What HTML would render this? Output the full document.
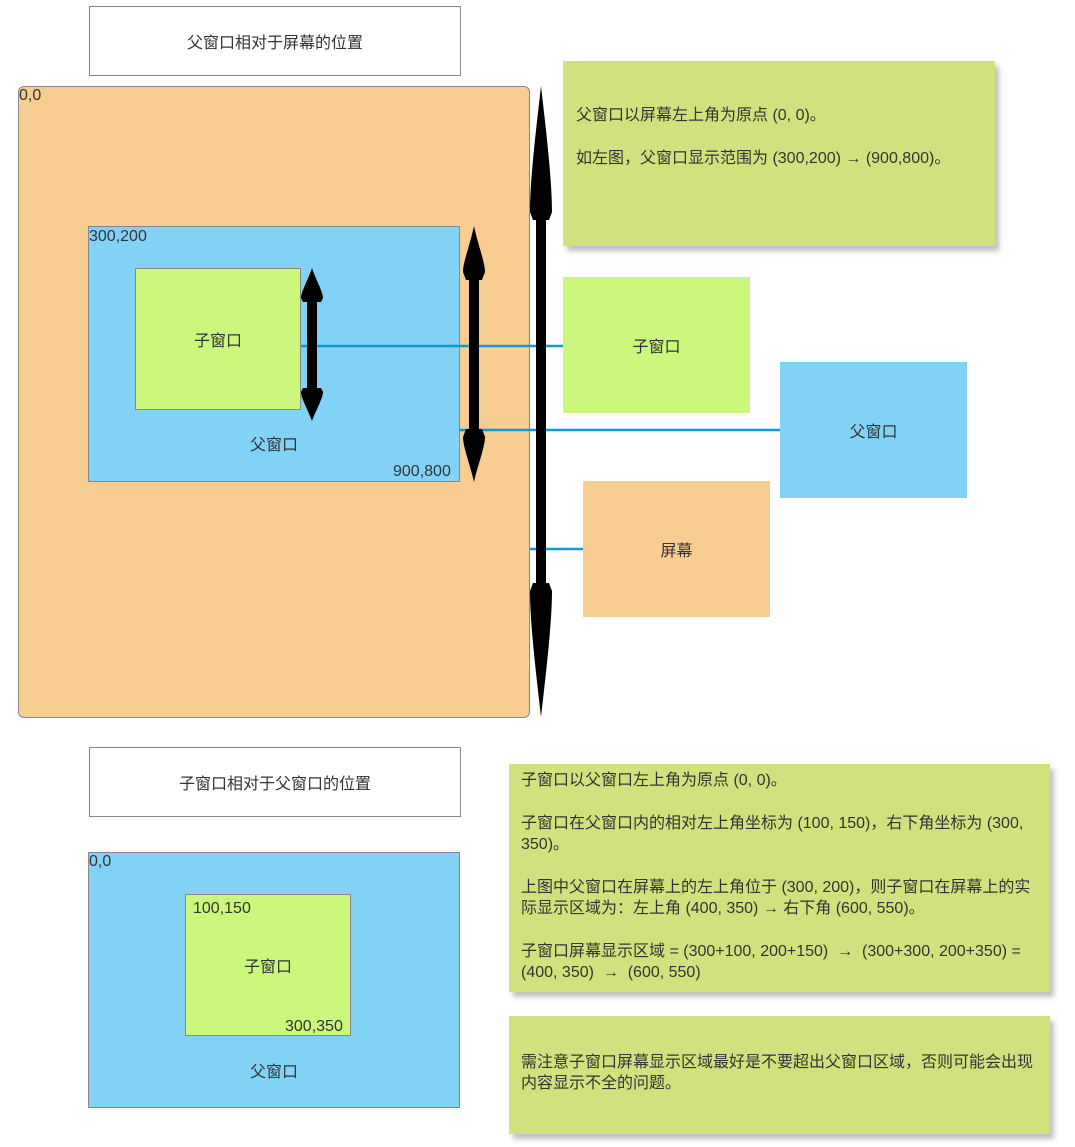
<!DOCTYPE html>
<html><head><meta charset="utf-8"><style>
body{margin:0;width:1075px;height:1147px;background:#fff;position:relative;font-family:"Liberation Sans","Noto Sans CJK SC",sans-serif;font-size:16px;color:#333;overflow:hidden}
.b{position:absolute;box-sizing:border-box;display:flex;align-items:center;justify-content:center}
.t{position:absolute;white-space:nowrap;font-size:16px}
.note{position:absolute;background:#d3e07e;box-shadow:4px 5px 5px rgba(0,0,0,.25);box-sizing:border-box;font-size:16px;line-height:21px;color:#333}
.note p{margin:0 0 22px 0}
</style></head><body>
<div class="b" style="left:89px;top:6px;width:372px;height:70px;border:1px solid #888">父窗口相对于屏幕的位置</div>
<div class="b" style="left:18px;top:86px;width:512px;height:632px;background:#f8cd91;border:1px solid #888;border-radius:6px"></div>
<div class="t" style="left:19px;top:87px">0,0</div>
<div class="b" style="left:88px;top:226px;width:372px;height:256px;background:#82d2f6;border:1px solid #888"></div>
<div class="t" style="left:89px;top:228px">300,200</div>
<div class="t" style="left:393px;top:463px">900,800</div>
<div class="t" style="left:250px;top:431px">父窗口</div>
<div class="b" style="left:135px;top:268px;width:166px;height:142px;background:#cbf77d;border:1px solid #888">子窗口</div>
<div class="b" style="left:563px;top:277px;width:187px;height:136px;background:#cbf77d">子窗口</div>
<div class="b" style="left:780px;top:362px;width:187px;height:136px;background:#82d2f6">父窗口</div>
<div class="b" style="left:583px;top:481px;width:187px;height:136px;background:#f8cd91">屏幕</div>
<svg style="position:absolute;left:0;top:0" width="1075" height="1147">
<g stroke="#0e9ccf" stroke-width="2.5" fill="none">
<line x1="301" y1="346" x2="563" y2="346"/>
<line x1="459" y1="430" x2="780" y2="430"/>
<line x1="530" y1="549" x2="583" y2="549"/>
</g>
<g fill="#000">
<path d="M541,86 C546,130 552,180 552,212 L549,220 L546,220 L546,583 L549,583 L552,591 C552,623 546,673 541,717 C536,673 530,623 530,591 L533,583 L536,583 L536,220 L533,220 L530,212 C530,180 536,130 541,86Z"/>
<path d="M474,226 C478,245 485,262 485,272 L482,280 L479,280 L479,429 L482,429 L485,437 C485,447 478,464 474,482 C470,464 463,447 463,437 L466,429 L469,429 L469,280 L466,280 L463,272 C463,262 470,245 474,226Z"/>
<path d="M312,268 C316,280 323,292 323,298 L321,302 L317,302 L317,388 L321,388 L323,392 C323,398 316,410 312,421 C308,410 301,398 301,392 L303,388 L307,388 L307,302 L303,302 L301,298 C301,292 308,280 312,268Z"/>
</g>
</svg>
<div class="note" style="left:563px;top:61px;width:432px;height:185px;padding:44px 13px">
<p>父窗口以屏幕左上角为原点 (0, 0)。</p><p>如左图，父窗口显示范围为 (300,200) → (900,800)。</p></div>
<div class="b" style="left:89px;top:747px;width:372px;height:70px;border:1px solid #888">子窗口相对于父窗口的位置</div>
<div class="b" style="left:88px;top:852px;width:372px;height:256px;background:#82d2f6;border:1px solid #888"></div>
<div class="t" style="left:89px;top:853px">0,0</div>
<div class="t" style="left:250px;top:1058px">父窗口</div>
<div class="b" style="left:185px;top:894px;width:166px;height:142px;background:#cbf77d;border:1px solid #888">子窗口</div>
<div class="t" style="left:193px;top:900px">100,150</div>
<div class="t" style="left:285px;top:1018px">300,350</div>
<div class="note" style="left:509px;top:764px;width:541px;height:228px;padding:6px 12px">
<p>子窗口以父窗口左上角为原点 (0, 0)。</p>
<p>子窗口在父窗口内的相对左上角坐标为 (100, 150)，右下角坐标为 (300, 350)。</p>
<p>上图中父窗口在屏幕上的左上角位于 (300, 200)，则子窗口在屏幕上的实际显示区域为：左上角 (400, 350) → 右下角 (600, 550)。</p>
<p style="margin:0">子窗口屏幕显示区域 = (300+100, 200+150) &nbsp;→&nbsp; (300+300, 200+350) = (400, 350) &nbsp;→&nbsp; (600, 550)</p></div>
<div class="note" style="left:509px;top:1016px;width:541px;height:118px;padding:36px 12px">
需注意子窗口屏幕显示区域最好是不要超出父窗口区域，否则可能会出现内容显示不全的问题。</div>
</body></html>
